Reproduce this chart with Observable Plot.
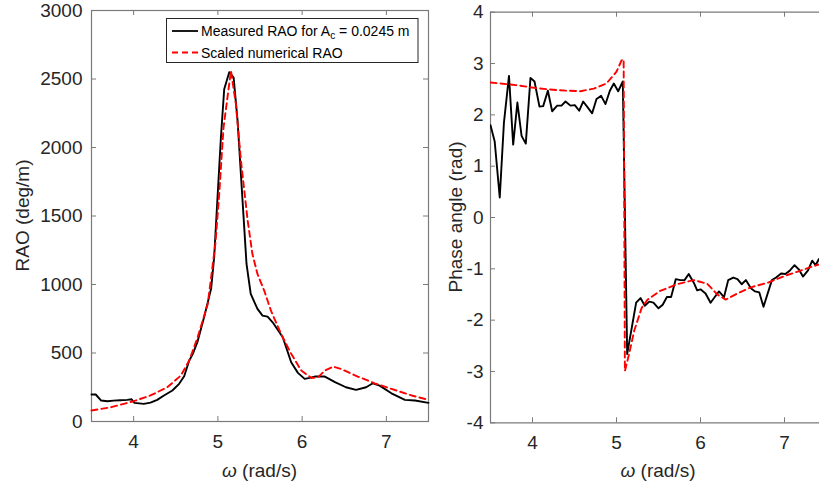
<!DOCTYPE html>
<html>
<head>
<meta charset="utf-8">
<script src="https://cdn.jsdelivr.net/npm/d3@7"></script>
<script src="https://cdn.jsdelivr.net/npm/@observablehq/plot@0.6"></script>
<style>
  html, body { margin: 0; padding: 0; background: #fff; overflow: hidden; }
  #wrap { position: relative; width: 819px; height: 484px; }
  #left, #right { position: absolute; top: 0; }
  #left { left: 0; }
  #right { left: 440px; }
</style>
</head>
<body>
<div id="wrap"><div id="left"></div><div id="right"></div></div>
<script>
// ---- Data ----
const omegaTicks = [4, 5, 6, 7];
const raoTicks = [0, 500, 1000, 1500, 2000, 2500, 3000];
const phaseTicks = [-4, -3, -2, -1, 0, 1, 2, 3, 4];

const measuredW = [3.50, 3.55, 3.615, 3.69, 3.76, 3.84, 3.925, 3.976, 4.01, 4.12, 4.20, 4.28, 4.36, 4.46, 4.54, 4.60, 4.66, 4.70, 4.76, 4.84, 4.92, 4.956, 4.976, 5.036, 5.075, 5.135, 5.187, 5.234, 5.294, 5.34, 5.39, 5.47, 5.53, 5.59, 5.65, 5.77, 5.87, 5.95, 6.03, 6.09, 6.15, 6.27, 6.39, 6.52, 6.64, 6.76, 6.84, 6.92, 7.06, 7.22, 7.34, 7.50];
const measuredRAO = [197, 197, 153, 148, 152, 155, 158, 162, 136, 129, 138, 158, 190, 226, 275, 330, 445, 490, 585, 770, 970, 1200, 1420, 2073, 2425, 2550, 2510, 2194, 1600, 1150, 931, 822, 773, 765, 724, 615, 432, 355, 311, 318, 328, 328, 287, 250, 231, 250, 279, 262, 206, 158, 153, 136];

const numericalW = [3.50, 3.73, 4.00, 4.20, 4.40, 4.56, 4.66, 4.76, 4.88, 4.97, 5.016, 5.067, 5.155, 5.214, 5.274, 5.354, 5.41, 5.47, 5.55, 5.63, 5.75, 5.87, 5.99, 6.11, 6.19, 6.27, 6.37, 6.46, 6.66, 6.86, 7.06, 7.30, 7.50];
const numericalRAO = [80, 104, 148, 190, 250, 335, 445, 615, 858, 1296, 1660, 2145, 2560, 2316, 1903, 1465, 1222, 1077, 955, 809, 639, 494, 372, 318, 323, 372, 401, 384, 328, 279, 238, 190, 158];

const phaseMeasW = [3.50, 3.55, 3.61, 3.66, 3.72, 3.77, 3.82, 3.87, 3.92, 3.976, 4.024, 4.083, 4.127, 4.183, 4.234, 4.294, 4.345, 4.393, 4.452, 4.504, 4.556, 4.603, 4.659, 4.71, 4.762, 4.817, 4.869, 4.921, 4.968, 5.02, 5.075, 5.127, 5.234, 5.286, 5.337, 5.39, 5.44, 5.50, 5.55, 5.60, 5.65, 5.706, 5.76, 5.81, 5.86, 5.92, 5.96, 6.00, 6.06, 6.12, 6.17, 6.22, 6.28, 6.33, 6.39, 6.44, 6.49, 6.54, 6.60, 6.65, 6.70, 6.75, 6.85, 6.90, 6.96, 7.01, 7.06, 7.12, 7.17, 7.22, 7.28, 7.33, 7.37, 7.41];
const phaseMeas = [1.80, 1.48, 0.39, 1.85, 2.76, 1.42, 2.24, 1.59, 1.44, 2.72, 2.65, 2.16, 2.17, 2.47, 2.07, 2.18, 2.18, 2.26, 2.18, 2.19, 2.08, 2.26, 2.14, 2.03, 2.31, 2.37, 2.21, 2.47, 2.61, 2.46, 2.65, -2.66, -1.66, -1.57, -1.72, -1.64, -1.66, -1.77, -1.70, -1.55, -1.55, -1.20, -1.22, -1.22, -1.10, -1.27, -1.42, -1.40, -1.48, -1.66, -1.55, -1.44, -1.55, -1.22, -1.17, -1.20, -1.30, -1.22, -1.38, -1.44, -1.46, -1.74, -1.22, -1.17, -1.09, -1.10, -1.04, -0.93, -1.01, -1.15, -1.03, -0.84, -0.93, -0.81];

const phaseNumW = [3.50, 3.80, 4.05, 4.30, 4.57, 4.73, 4.88, 5.00, 5.06, 5.085, 5.10, 5.15, 5.21, 5.30, 5.37, 5.52, 5.72, 5.92, 6.08, 6.20, 6.30, 6.44, 6.60, 6.80, 7.00, 7.20, 7.417];
const phaseNum = [2.63, 2.58, 2.52, 2.48, 2.46, 2.51, 2.61, 2.84, 3.06, 3.08, -2.99, -2.66, -2.21, -1.76, -1.60, -1.43, -1.30, -1.22, -1.29, -1.50, -1.60, -1.48, -1.36, -1.27, -1.14, -1.03, -0.91];

const legendLabels = ["Measured RAO for A", "Scaled numerical RAO"];

// ---- Build tables ----
const raoMeasured = measuredW.map((w, i) => ({w, v: measuredRAO[i]}));
const raoNumerical = numericalW.map((w, i) => ({w, v: numericalRAO[i]}));
const phMeasured = phaseMeasW.map((w, i) => ({w, v: phaseMeas[i]}));
const phNumerical = phaseNumW.map((w, i) => ({w, v: phaseNum[i]}));

const FONT = "'Liberation Sans', Arial, Helvetica, sans-serif";
const AX = "#262626";
const AXLINE = "#7a7a7a";
const TICK = 5;

// ---- Left panel ----
const L = {width: 440, height: 484, mt: 10, mb: 63, ml: 91, mr: 12};
const LpW = L.width - L.ml - L.mr, LpH = L.height - L.mt - L.mb;
const leftPlot = Plot.plot({
  width: L.width, height: L.height,
  marginTop: L.mt, marginBottom: L.mb, marginLeft: L.ml, marginRight: L.mr,
  style: {fontFamily: FONT, fontSize: "19px", color: AX, background: "white", overflow: "visible"},
  x: {domain: [3.5, 7.5]},
  y: {domain: [0, 3000]},
  marks: [
    Plot.axisX(omegaTicks, {tickSize: 0, tickPadding: 13, label: null, tickFormat: d => String(d)}),
    Plot.axisY(raoTicks, {tickSize: 0, tickPadding: 9, label: null, tickFormat: d => String(d)}),
    Plot.tickX(omegaTicks, {x: d => d, insetTop: LpH - TICK, stroke: AXLINE}),
    Plot.tickX(omegaTicks, {x: d => d, insetBottom: LpH - TICK, stroke: AXLINE}),
    Plot.tickY(raoTicks, {y: d => d, insetRight: LpW - TICK, stroke: AXLINE}),
    Plot.tickY(raoTicks, {y: d => d, insetLeft: LpW - TICK, stroke: AXLINE}),
    Plot.frame({stroke: AXLINE, strokeWidth: 1.2}),
    Plot.line(raoMeasured, {x: "w", y: "v", stroke: "black", strokeWidth: 1.9}),
    Plot.line(raoNumerical, {x: "w", y: "v", stroke: "#ff0000", strokeWidth: 1.9, strokeDasharray: "6,4"})
  ]
});
document.getElementById("left").appendChild(leftPlot);

// ---- Right panel ----
const R = {width: 379, height: 484, mt: 11.7, mb: 61.7, ml: 50, mr: 0};
const RpW = R.width - R.ml - R.mr, RpH = R.height - R.mt - R.mb;
const xRightMax = 3.5 + 4 * RpW / 336; // the reference is cropped at the right edge
const rightPlot = Plot.plot({
  width: R.width, height: R.height,
  marginTop: R.mt, marginBottom: R.mb, marginLeft: R.ml, marginRight: R.mr,
  style: {fontFamily: FONT, fontSize: "19px", color: AX, background: "white", overflow: "visible"},
  x: {domain: [3.5, xRightMax]},
  y: {domain: [-4, 4]},
  marks: [
    Plot.axisX(omegaTicks, {tickSize: 0, tickPadding: 13, label: null, tickFormat: d => String(d)}),
    Plot.axisY(phaseTicks, {tickSize: 0, tickPadding: 7, label: null, tickFormat: d => String(d)}),
    Plot.tickX(omegaTicks, {x: d => d, insetTop: RpH - TICK, stroke: AXLINE}),
    Plot.tickX(omegaTicks, {x: d => d, insetBottom: RpH - TICK, stroke: AXLINE}),
    Plot.tickY(phaseTicks, {y: d => d, insetRight: RpW - TICK, stroke: AXLINE}),
    Plot.ruleY([-4, 4], {stroke: AXLINE, strokeWidth: 1.2}),
    Plot.ruleX([3.5], {stroke: AXLINE, strokeWidth: 1.2}),
    Plot.line(phMeasured, {x: "w", y: "v", stroke: "black", strokeWidth: 1.9, clip: true}),
    Plot.line(phNumerical, {x: "w", y: "v", stroke: "#ff0000", strokeWidth: 1.9, strokeDasharray: "6,4", clip: true})
  ]
});
document.getElementById("right").appendChild(rightPlot);

// ---- Axis titles ----
function xTitle(svg, cx, y) {
  const t = d3.select(svg).append("text")
    .attr("x", cx).attr("y", y).attr("text-anchor", "middle")
    .attr("fill", AX).style("font-family", FONT).style("font-size", "19px");
  t.append("tspan").attr("font-style", "italic").text("ω");
  t.append("tspan").text(" (rad/s)");
}
function yTitle(svg, x, cy, label) {
  d3.select(svg).append("text")
    .attr("transform", `translate(${x},${cy}) rotate(-90)`)
    .attr("text-anchor", "middle").attr("fill", AX)
    .style("font-family", FONT).style("font-size", "19px")
    .text(label);
}
xTitle(leftPlot, L.ml + LpW / 2, 477);
yTitle(leftPlot, 29, L.mt + LpH / 2, "RAO (deg/m)");
xTitle(rightPlot, R.ml + 336 / 2, 477);
yTitle(rightPlot, 22, R.mt + RpH / 2, "Phase angle (rad)");

// ---- Legend (inside left panel, upper right) ----
const lg = d3.select(leftPlot).append("g")
  .attr("text-anchor", "start")
  .style("font-family", FONT).style("font-size", "14px");
lg.append("rect").attr("x", 166.5).attr("y", 18.5).attr("width", 251.5).attr("height", 44)
  .attr("fill", "white").attr("stroke", AX).attr("stroke-width", 1);
lg.append("line").attr("x1", 172).attr("x2", 198).attr("y1", 31).attr("y2", 31)
  .attr("stroke", "black").attr("stroke-width", 1.8);
lg.append("line").attr("x1", 172).attr("x2", 198).attr("y1", 52.5).attr("y2", 52.5)
  .attr("stroke", "#ff0000").attr("stroke-width", 1.8).attr("stroke-dasharray", "6,4");
const t1 = lg.append("text").attr("x", 201).attr("y", 36).attr("fill", "black").attr("text-anchor", "start");
t1.append("tspan").text(legendLabels[0]);
t1.append("tspan").attr("dy", 3).style("font-size", "10px").text("c");
t1.append("tspan").attr("dy", -3).text(" = 0.0245 m");
lg.append("text").attr("x", 201).attr("y", 57.5).attr("fill", "black").attr("text-anchor", "start").text(legendLabels[1]);
</script>
</body>
</html>
